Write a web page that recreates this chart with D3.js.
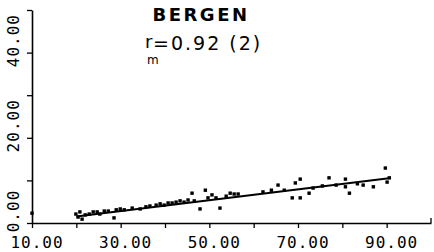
<!DOCTYPE html>
<html><head><meta charset="utf-8">
<script src="https://cdn.jsdelivr.net/npm/d3@7"></script>
<style>
html,body{margin:0;padding:0;background:#fff;}
svg{display:block;}
text{fill:#000;}
</style></head>
<body>
<svg id="chart" width="434" height="252"></svg>
<script>
// ---- data ----
const title = "BERGEN";
const corrLabel = "=0.92 (2)";
const xTickValues = [10,20,30,40,50,60,70,80,90,100];
const xLabelValues = [10,30,50,70,90];
const yTickValues = [0,10,20,30,40,50];
const yLabelValues = [0,20,40];
const pointsX = [10.0,19.9,20.4,20.8,21.3,22.0,22.9,23.8,24.7,25.3,26.3,27.2,28.5,29.0,29.9,30.8,32.6,34.4,35.7,36.6,38.0,38.9,39.8,40.7,41.6,42.5,43.4,44.3,45.2,46.1,46.6,47.9,49.1,49.7,50.6,51.5,52.4,53.8,54.7,55.6,56.5,62.1,64.0,65.5,66.9,68.7,69.4,70.5,70.5,72.5,73.4,75.5,77.0,78.6,80.7,80.7,81.6,83.4,84.7,87.0,89.7,90.1,90.6];
const pointsY = [2.3,2.1,1.4,2.6,0.9,1.9,2.1,2.6,2.6,2.1,2.8,2.8,1.2,3.1,3.3,3.1,3.5,3.3,3.8,4.0,4.2,4.5,4.2,4.7,4.7,4.9,5.2,4.9,5.4,7.0,5.2,3.3,7.7,5.9,6.6,5.9,3.5,6.3,7.0,6.8,6.8,7.3,7.7,8.9,7.7,5.9,9.4,5.9,10.3,7.0,8.2,8.7,10.6,8.9,10.3,8.5,7.0,9.2,8.9,8.5,12.9,9.6,10.6];
const fitX = [20, 90.5];
const fitY = [1.5, 10.5];

// ---- chart ----
const svg = d3.select("#chart");
const x = d3.scaleLinear().domain([10,100]).range([32,431]);
const y = d3.scaleLinear().domain([0,50]).range([223,10]);
const fmt = d3.format(".2f");
const monoFont = "'DejaVu Sans Mono', monospace";
const sansFont = "'DejaVu Sans', sans-serif";

// x axis
const xAxis = svg.append("g").attr("transform", `translate(0,${y(0)})`)
  .call(d3.axisBottom(x).tickValues(xTickValues.slice(0,-1)).tickSize(5).tickSizeOuter(0).tickFormat(""));
xAxis.select(".domain").attr("stroke","#000").attr("stroke-width",1.6);
xAxis.selectAll(".tick line").attr("stroke","#000").attr("stroke-width",1.3);
svg.append("line").attr("x1",x(100)).attr("x2",x(100)).attr("y1",y(0)).attr("y2",y(0)-5)
  .attr("stroke","#000").attr("stroke-width",1.3);

// y axis
const yAxis = svg.append("g").attr("transform", `translate(${x(10)},0)`)
  .call(d3.axisLeft(y).tickValues(yTickValues).tickSize(5).tickSizeOuter(0).tickFormat(""));
yAxis.select(".domain").attr("stroke","#000").attr("stroke-width",1.6);
yAxis.selectAll(".tick line").attr("stroke","#000").attr("stroke-width",1.3);

// x labels
svg.append("g").selectAll("text").data(xLabelValues).join("text")
  .attr("x", d => x(d) + 5).attr("y", 248)
  .attr("text-anchor","middle")
  .style("font-family", monoFont).style("font-size","16px").style("letter-spacing","1px")
  .text(d => fmt(d));

// y labels
svg.append("g").selectAll("text").data(yLabelValues).join("text")
  .attr("transform", d => `translate(19,${y(d) - 12}) rotate(-90)`)
  .attr("text-anchor","middle")
  .style("font-family", monoFont).style("font-size","16px").style("letter-spacing","1px")
  .text(d => fmt(d));

// regression line
svg.append("line")
  .attr("x1", x(fitX[0])).attr("y1", y(fitY[0]))
  .attr("x2", x(fitX[1])).attr("y2", y(fitY[1]))
  .attr("stroke","#000").attr("stroke-width",2);

// points
const s = 3.4;
svg.append("g").selectAll("rect").data(pointsX.map((d,i)=>[d,pointsY[i]])).join("rect")
  .attr("x", d => x(d[0]) - s/2).attr("y", d => y(d[1]) - s/2)
  .attr("width", s).attr("height", s).attr("fill","#000");

// title
svg.append("text").attr("x", 201).attr("y", 21).attr("text-anchor","middle")
  .style("font-family", sansFont).style("font-size","18px")
  .style("font-weight","bold").style("letter-spacing","2.5px")
  .text(title);
svg.append("text").attr("x", 145).attr("y", 48)
  .style("font-family", sansFont).style("font-size","18px")
  .text("r");
svg.append("text").attr("x", 147).attr("y", 64)
  .style("font-family", sansFont).style("font-size","12px")
  .text("m");
svg.append("text").attr("x", 153).attr("y", 50)
  .style("font-family", sansFont).style("font-size","19px")
  .style("letter-spacing","2px")
  .text(corrLabel);
</script>
</body></html>
